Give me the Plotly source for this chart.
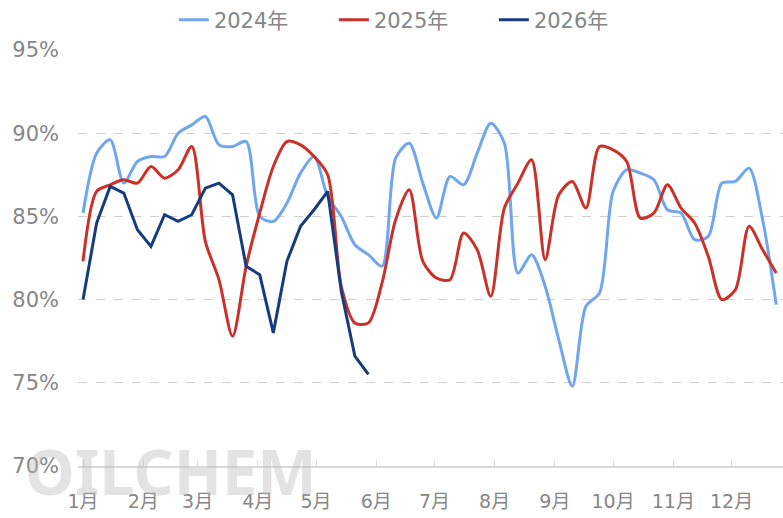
import plotly.graph_objects as go

months = ["1月", "2月", "3月", "4月", "5月", "6月", "7月", "8月", "9月", "10月", "11月", "12月"]
days_in_month = [31, 28, 31, 30, 31, 30, 31, 31, 30, 31, 30, 31]

s2024 = [85.2, 88.8, 89.6, 87.0, 88.3, 88.6, 88.6, 90.0, 90.5, 91.0, 89.3, 89.2, 89.5,
         85.0, 84.7, 85.8, 87.6, 88.6, 86.2, 85.0, 83.3, 82.7, 82.0, 88.5, 89.4, 87.0,
         84.9, 87.4, 86.9, 88.8, 90.6, 89.4, 81.6, 82.7, 80.8, 77.6, 74.8, 79.6, 80.4,
         86.5, 87.8, 87.6, 87.2, 85.4, 85.2, 83.6, 83.8, 87.0, 87.1, 87.9, 84.8, 79.7]
s2025 = [82.3, 86.5, 86.9, 87.2, 87.0, 88.0, 87.3, 87.8, 89.2, 83.5, 81.2, 77.8, 82.0,
         85.2, 88.0, 89.5, 89.3, 88.6, 87.5, 80.8, 78.6, 78.6, 81.0, 84.8, 86.6, 82.3,
         81.3, 81.2, 84.0, 83.0, 80.2, 85.5, 87.0, 88.4, 82.4, 86.3, 87.1, 85.5, 89.2,
         89.0, 88.3, 84.9, 85.2, 86.9, 85.5, 84.6, 82.6, 80.0, 80.6, 84.4, 83.0, 81.6]
s2026 = [80.0, 84.6, 86.8, 86.4, 84.2, 83.2, 85.1, 84.7, 85.1, 86.7, 87.0, 86.3, 82.0,
         81.5, 78.0, 82.3, 84.4, 85.4, 86.5, 80.5, 76.6, 75.5]

y_ticks = [70, 75, 80, 85, 90, 95]

# month start positions in week units
month_pos = []
acc = 0
for d in days_in_month:
    month_pos.append(acc / 7.0)
    acc += d

FONT = "DejaVu Sans, Noto Sans CJK SC, sans-serif"
GRAY = "#868686"

fig = go.Figure()
fig.add_trace(go.Scatter(x=list(range(len(s2024))), y=s2024, mode="lines", name="2024年",
                         line=dict(color="#6FA6EE", width=3, shape="spline", smoothing=0.8)))
fig.add_trace(go.Scatter(x=list(range(len(s2025))), y=s2025, mode="lines", name="2025年",
                         line=dict(color="#CC3129", width=3, shape="spline", smoothing=0.8)))
fig.add_trace(go.Scatter(x=list(range(len(s2026))), y=s2026, mode="lines", name="2026年",
                         line=dict(color="#173C7E", width=3)))

fig.add_annotation(text="OILCHEM", xref="paper", yref="paper", x=0.132, y=-0.01,
                   xanchor="center", yanchor="middle", showarrow=False,
                   font=dict(family="Noto Sans, sans-serif", size=63, color="rgba(185,185,185,0.4)",
                             weight="bold"))

fig.update_layout(
    width=783, height=518,
    margin=dict(l=78, r=0, t=50, b=52, autoexpand=False),
    paper_bgcolor="white", plot_bgcolor="white",
    font=dict(family=FONT, color=GRAY, size=20),
    showlegend=True,
    legend=dict(orientation="h", x=0.136, y=1.072, xanchor="left", yanchor="middle",
                font=dict(size=21, color=GRAY), entrywidth=115, entrywidthmode="pixels",
                bgcolor="rgba(0,0,0,0)", tracegroupgap=0),
    xaxis=dict(range=[-0.37, 51.5], tickmode="array", tickvals=month_pos, ticktext=months,
               showgrid=False, zeroline=False, showline=True, linecolor="#D9D9D9", linewidth=1.5,
               ticks="inside", ticklen=6, tickcolor="#D9D9D9", ticklabelstandoff=17,
               automargin=False, tickfont=dict(size=19, color=GRAY)),
    yaxis=dict(range=[70, 95], tickvals=y_ticks, ticktext=[f"{v}%" for v in y_ticks],
               showgrid=True, gridcolor="#CFCFCF", griddash="dash", gridwidth=1,
               zeroline=False, showline=False, ticks="", ticklabelstandoff=18,
               automargin=False, tickfont=dict(size=21, color=GRAY)),
)

fig.write_html("out.html", config={"displayModeBar": False},
               post_script="document.body.style.margin='0';document.body.style.overflow='hidden';")
